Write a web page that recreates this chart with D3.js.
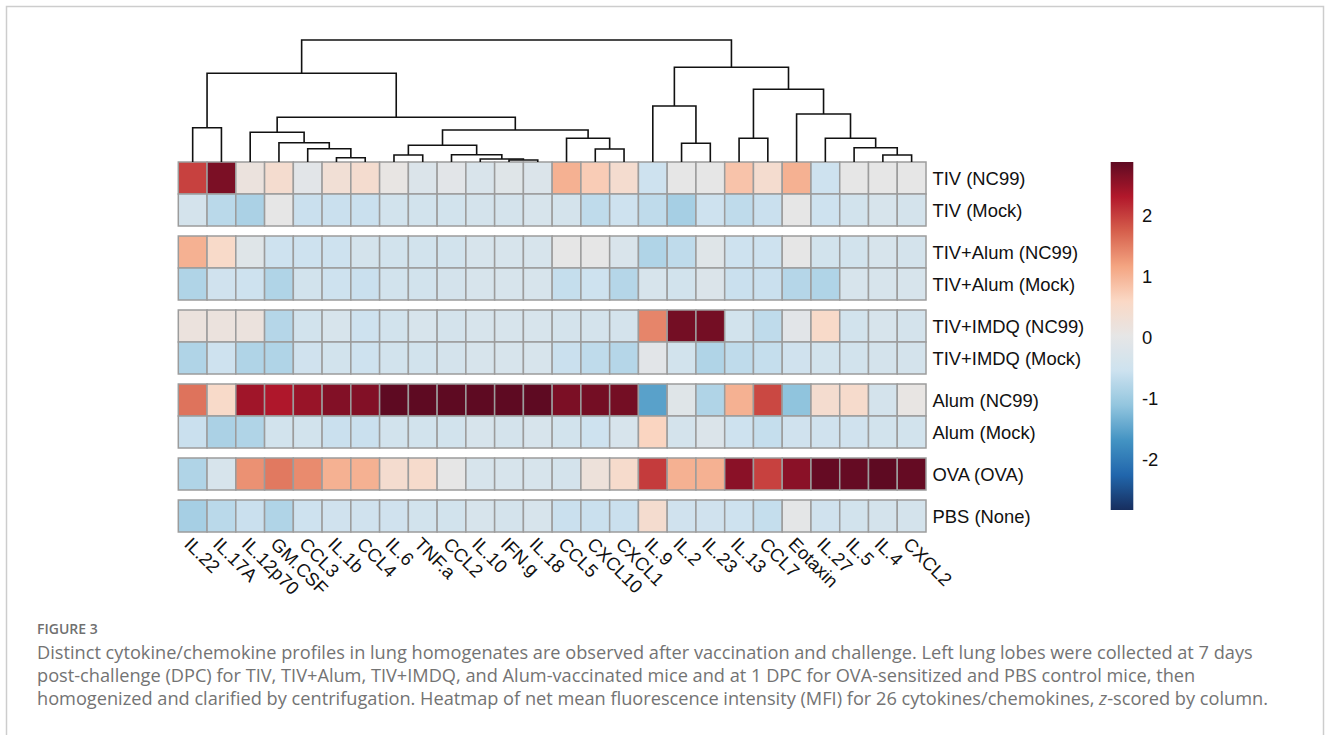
<!DOCTYPE html>
<html>
<head>
<meta charset="utf-8">
<script src="https://cdn.jsdelivr.net/npm/d3@7"></script>
<style>
  body { margin: 0; background: #fff; }
  svg { display: block; }
</style>
</head>
<body>
<svg id="fig" width="1330" height="735"></svg>
<script>
// columns in dendrogram order
var cytokines = ["IL.22", "IL.17A", "IL.12p70", "GM.CSF", "CCL3", "IL.1b", "CCL4", "IL.6", "TNF.a",
  "CCL2", "IL.10", "IFN.g", "IL.18", "CCL5", "CXCL10", "CXCL1", "IL.9", "IL.2", "IL.23", "IL.13",
  "CCL7", "Eotaxin", "IL.27", "IL.5", "IL.4", "CXCL2"];

var groups = ["TIV (NC99)", "TIV (Mock)", "TIV+Alum (NC99)", "TIV+Alum (Mock)", "TIV+IMDQ (NC99)",
  "TIV+IMDQ (Mock)", "Alum (NC99)", "Alum (Mock)", "OVA (OVA)", "PBS (None)"];
// which block (separated by a gap) each row sits in
var rowBlock = [0, 0, 1, 1, 2, 2, 3, 3, 4, 5];

// z-scores, one array per row
var tivNC99     = [1.95, 2.65, 0.15, 0.4, -0.1, 0.3, 0.4, 0.05, -0.25, -0.1, -0.3, -0.15, -0.25, 1.0, 0.7, 0.4, -0.55, 0.0, 0.0, 0.8, 0.4, 1.0, -0.55, 0.0, 0.0, 0.0];
var tivMock     = [-0.4, -0.75, -0.9, 0.0, -0.6, -0.6, -0.6, -0.45, -0.45, -0.45, -0.4, -0.4, -0.35, -0.4, -0.7, -0.55, -0.7, -0.95, -0.55, -0.7, -0.6, 0.0, -0.55, -0.45, -0.35, -0.4];
var tivAlumNC99 = [1.0, 0.5, -0.15, -0.55, -0.55, -0.55, -0.4, -0.45, -0.45, -0.45, -0.35, -0.35, -0.35, 0.0, 0.0, -0.3, -0.85, -0.7, -0.15, -0.55, -0.55, 0.0, -0.45, -0.45, -0.35, -0.4];
var tivAlumMock = [-0.85, -0.5, -0.55, -0.85, -0.45, -0.55, -0.6, -0.45, -0.45, -0.4, -0.35, -0.35, -0.35, -0.65, -0.55, -0.8, -0.35, -0.45, -0.25, -0.6, -0.6, -0.8, -0.85, -0.35, -0.35, -0.35];
var tivImdqNC99 = [0.15, 0.15, 0.15, -0.8, -0.45, -0.35, -0.55, -0.45, -0.35, -0.4, -0.35, -0.35, -0.35, -0.4, -0.4, -0.4, 1.4, 2.7, 2.7, -0.45, -0.7, -0.1, 0.5, -0.45, -0.35, -0.4];
var tivImdqMock = [-0.85, -0.55, -0.85, -0.85, -0.5, -0.45, -0.55, -0.45, -0.45, -0.4, -0.35, -0.35, -0.35, -0.6, -0.7, -0.8, -0.1, -0.45, -0.85, -0.7, -0.65, -0.5, -0.45, -0.45, -0.4, -0.4];
var alumNC99    = [1.55, 0.5, 2.4, 2.3, 2.45, 2.6, 2.6, 2.85, 2.85, 2.85, 2.85, 2.85, 2.85, 2.65, 2.7, 2.7, -1.55, -0.15, -0.85, 1.0, 1.9, -1.15, 0.4, 0.45, -0.4, 0.05];
var alumMock    = [-0.6, -0.9, -0.85, -0.45, -0.45, -0.6, -0.6, -0.45, -0.45, -0.45, -0.35, -0.4, -0.35, -0.45, -0.55, -0.35, 0.6, -0.4, -0.25, -0.55, -0.65, -0.5, -0.5, -0.5, -0.45, -0.45];
var ovaOVA      = [-0.85, -0.35, 1.3, 1.5, 1.35, 1.0, 1.0, 0.4, 0.45, 0.0, -0.35, -0.35, -0.35, -0.4, 0.2, 0.45, 2.0, 1.0, 1.0, 2.55, 1.95, 2.55, 2.8, 2.8, 2.85, 2.8];
var pbsNone     = [-0.95, -0.75, -0.6, -0.85, -0.55, -0.5, -0.5, -0.5, -0.45, -0.45, -0.35, -0.4, -0.35, -0.6, -0.6, -0.6, 0.4, -0.5, -0.5, -0.55, -0.65, -0.05, -0.5, -0.45, -0.4, -0.4];
var rows = [tivNC99, tivMock, tivAlumNC99, tivAlumMock, tivImdqNC99, tivImdqMock, alumNC99, alumMock, ovaOVA, pbsNone];

var legendTicks = [2, 1, 0, -1, -2];
var zLimit = 2.846;

// column dendrogram: [merge height, left, right]
var colTree = [12.2,
  [8.87,
    [3.43, "IL.22", "IL.17A"],
    [4.47,
      [2.97, "IL.12p70", [1.93, "GM.CSF", [1.33, "CCL3", [0.43, "IL.1b", "CCL4"]]]],
      [3.2,
        [1.67, [0.7, "IL.6", "TNF.a"], [0.73, "CCL2", [0.3, "IL.10", [0.2, "IFN.g", "IL.18"]]]],
        [2.37, "CCL5", [1.3, "CXCL10", "CXCL1"]]]]],
  [9.47,
    [5.6, "IL.9", [1.87, "IL.2", "IL.23"]],
    [7.27,
      [2.37, "IL.13", "CCL7"],
      [4.8, "Eotaxin", [2.37, "IL.27", [1.43, "IL.5", [0.7, "IL.4", "CXCL2"]]]]]]];

var svg = d3.select("#fig");
var labelFont = "'Liberation Sans', Arial, Helvetica, sans-serif";

// outer frame
svg.append("rect")
  .attr("x", 6.5).attr("y", 6.5)
  .attr("width", 1317).attr("height", 760)
  .attr("fill", "none")
  .attr("stroke", "#cdcdcd")
  .attr("stroke-width", 1.5);

// colour scale (reversed RdBu)
var rdbu = ["#172e5e", "#2166ac", "#4393c3", "#92c5de", "#cde2ef", "#e6e6e6",
            "#fad8c5", "#f4a582", "#d6604d", "#b2182b", "#5e0a22"];
var color = d3.scaleLinear()
  .domain(d3.range(rdbu.length).map(function(i){ return -zLimit + i * 2 * zLimit / (rdbu.length - 1); }))
  .range(rdbu)
  .clamp(true);

var heatTop = 162, cellH = 32, blockGap = 10;
var x = d3.scaleBand()
  .domain(cytokines)
  .range([178.3, 926]);
var rowY = d3.scaleLinear()
  .domain([0, groups.length])
  .range([heatTop, heatTop + groups.length * cellH]);
function yOf(i) { return rowY(i) + rowBlock[i] * blockGap; }

// heatmap cells
var cells = [];
rows.forEach(function(r, i){
  r.forEach(function(v, j){ cells.push({row: i, col: cytokines[j], value: v}); });
});

var heat = svg.append("g").attr("id", "heat");
heat.selectAll("rect")
  .data(cells)
  .enter().append("rect")
  .attr("x", function(d){ return x(d.col); })
  .attr("y", function(d){ return yOf(d.row); })
  .attr("width", x.bandwidth())
  .attr("height", rowY(1) - rowY(0))
  .attr("fill", function(d){ return color(d.value); })
  .attr("stroke", "#9c9c9c")
  .attr("stroke-width", 1.5);

// row labels
svg.append("g").selectAll("text")
  .data(groups)
  .enter().append("text")
  .attr("x", x.range()[1] + 6.5)
  .attr("y", function(d, i){ return yOf(i) + cellH / 2 + 7; })
  .style("font-family", labelFont)
  .style("font-size", "18.4px")
  .attr("fill", "#111")
  .text(function(d){ return d; });

// column labels, rotated
svg.append("g").selectAll("text")
  .data(cytokines)
  .enter().append("text")
  .attr("transform", function(d){
    return "translate(" + (x(d) + x.bandwidth() / 2) + "," + 536 + ") rotate(45)";
  })
  .attr("dy", "0.72em")
  .style("font-family", labelFont)
  .style("font-size", "18.4px")
  .attr("fill", "#111")
  .text(function(d){ return d; });

// dendrogram
var dendY = d3.scaleLinear().domain([0, colTree[0]]).range([heatTop, 40]);
var segs = [];
function place(node) {
  if (typeof node === "string") return {x: x(node) + x.bandwidth() / 2, h: 0};
  var a = place(node[1]), b = place(node[2]);
  segs.push("M" + a.x + "," + dendY(a.h) + "V" + dendY(node[0]) + "H" + b.x + "V" + dendY(b.h));
  return {x: (a.x + b.x) / 2, h: node[0]};
}
place(colTree);
svg.append("g").selectAll("path")
  .data(segs)
  .enter().append("path")
  .attr("d", function(d){ return d; })
  .attr("fill", "none")
  .attr("stroke", "#111")
  .attr("stroke-width", 1.6);

// colour key
var keyY = d3.scaleLinear().domain([-zLimit, zLimit]).range([510, 162]);
var grad = svg.append("defs").append("linearGradient")
  .attr("id", "keygrad")
  .attr("x1", 0).attr("y1", 1).attr("x2", 0).attr("y2", 0);
grad.selectAll("stop")
  .data(d3.range(0, 1.0001, 0.02))
  .enter().append("stop")
  .attr("offset", function(d){ return d; })
  .attr("stop-color", function(d){ return color(-zLimit + d * 2 * zLimit); });
svg.append("rect")
  .attr("x", 1110.7).attr("y", keyY(zLimit))
  .attr("width", 22.6)
  .attr("height", keyY(-zLimit) - keyY(zLimit))
  .attr("fill", "url(#keygrad)");
svg.append("g").selectAll("text")
  .data(legendTicks)
  .enter().append("text")
  .attr("x", 1142)
  .attr("y", function(d){ return keyY(d) + 8; })
  .style("font-family", labelFont)
  .style("font-size", "18.4px")
  .attr("fill", "#111")
  .text(function(d){ return d < 0 ? "-" + Math.abs(d) : d; });

// caption
var capFont = "'Open Sans', 'Noto Sans', sans-serif";
svg.append("text")
  .attr("x", 37).attr("y", 634)
  .style("font-family", capFont)
  .style("font-size", "14px")
  .style("font-weight", 600)
  .attr("fill", "#707070")
  .text("FIGURE 3");

var capLines = [
  "Distinct cytokine/chemokine profiles in lung homogenates are observed after vaccination and challenge. Left lung lobes were collected at 7 days",
  "post-challenge (DPC) for TIV, TIV+Alum, TIV+IMDQ, and Alum-vaccinated mice and at 1 DPC for OVA-sensitized and PBS control mice, then",
  "homogenized and clarified by centrifugation. Heatmap of net mean fluorescence intensity (MFI) for 26 cytokines/chemokines, "
];
var cap = svg.append("g")
  .style("font-family", capFont)
  .style("font-size", "18.2px")
  .attr("fill", "#737373");
capLines.forEach(function(t, i){
  var line = cap.append("text").attr("x", 37).attr("y", 658.5 + i * 23.2).text(t);
  if (i === 2) {
    line.append("tspan").style("font-style", "italic").text("z");
    line.append("tspan").text("-scored by column.");
  }
});
</script>
</body>
</html>
